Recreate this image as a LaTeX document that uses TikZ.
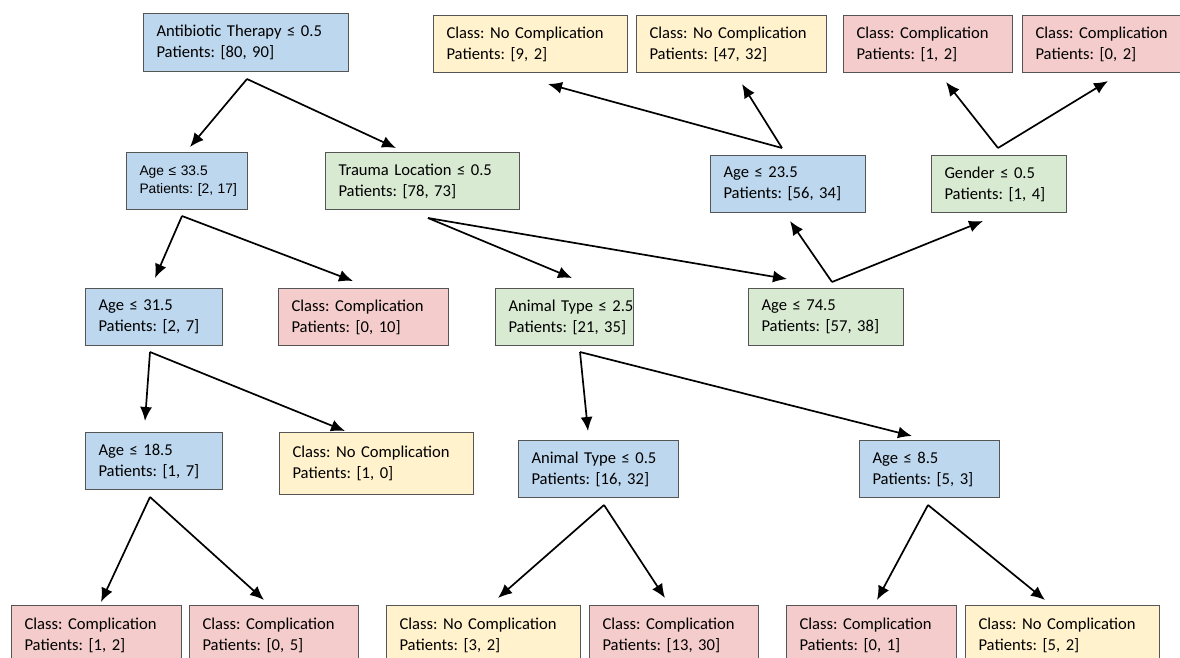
\documentclass[tikz,border=0pt]{standalone}
\usepackage{fontspec}
\setmainfont{Carlito}
\newfontfamily\arialf{Liberation Sans}
\usetikzlibrary{arrows.meta}
\definecolor{cblue}{HTML}{BDD7EE}
\definecolor{cgreen}{HTML}{D9EAD3}
\definecolor{cpink}{HTML}{F4CCCC}
\definecolor{cyellow}{HTML}{FFF2CC}
\definecolor{cborder}{HTML}{555555}
\tikzset{
  box/.style={draw=cborder, line width=1pt, anchor=north west, align=left,
    inner xsep=13pt, inner ysep=0pt, font=\fontsize{16.6}{21}\selectfont},
  conn/.style={line width=1.7pt, -{Latex[length=14pt,width=12pt]}},
}
\frenchspacing
% name, x1, y1, x2, y2, colour, line 1, line 2
\newcommand{\bx}[8]{%
  \pgfmathsetmacro{\bw}{#4-#2-26}\pgfmathsetmacro{\bh}{#5-#3}%
  \node[box, fill=#6, text width=\bw pt, minimum height=\bh pt] (#1) at (#2,#3) {\mbox{#7}\\\mbox{#8}};}
\begin{document}
\begin{tikzpicture}[x=1pt,y=-1pt]
\useasboundingbox (0,0) rectangle (1180,657);
% level 0
\bx{root}{143}{13}{348}{71}{cblue}{Antibiotic Therapy ≤ 0.5}{Patients: [80, 90]}
% level 1
\node[box, fill=cblue, text width=95pt, minimum height=57pt, font=\arialf\fontsize{13.8}{17.5}\selectfont] (a335) at (126,152) {\mbox{Age ≤ 33.5}\\\mbox{Patients: [2, 17]}};
\bx{trauma}{325}{152}{519}{209}{cgreen}{Trauma Location ≤ 0.5}{Patients: [78, 73]}
% level 2
\bx{a315}{85}{288}{222}{345}{cblue}{Age ≤ 31.5}{Patients: [2, 7]}
\bx{c010}{278}{288}{448}{345}{cpink}{Class: Complication}{Patients: [0, 10]}
\bx{animal25}{495}{288}{633}{345}{cgreen}{Animal Type ≤ 2.5}{Patients: [21, 35]}
\bx{a745}{748}{288}{903}{345}{cgreen}{Age ≤ 74.5}{Patients: [57, 38]}
% upper right
\bx{a235}{710}{155}{865}{212}{cblue}{Age ≤ 23.5}{Patients: [56, 34]}
\bx{gender}{931}{155}{1066}{212}{cgreen}{Gender ≤ 0.5}{Patients: [1, 4]}
\bx{n92}{433}{15}{627}{72}{cyellow}{Class: No Complication}{Patients: [9, 2]}
\bx{n4732}{636}{15}{826}{72}{cyellow}{Class: No Complication}{Patients: [47, 32]}
\bx{c12t}{843}{15}{1012}{72}{cpink}{Class: Complication}{Patients: [1, 2]}
\bx{c02t}{1022}{15}{1182}{72}{cpink}{Class: Complication}{Patients: [0, 2]}
% level 3
\bx{a185}{85}{432}{222}{489}{cblue}{Age ≤ 18.5}{Patients: [1, 7]}
\bx{n10}{279}{432}{473}{494}{cyellow}{Class: No Complication}{Patients: [1, 0]}
\bx{animal05}{518}{440}{678}{497}{cblue}{Animal Type ≤ 0.5}{Patients: [16, 32]}
\bx{a85}{859}{440}{999}{497}{cblue}{Age ≤ 8.5}{Patients: [5, 3]}
% bottom row
\bx{c12b}{11}{605}{181}{665}{cpink}{Class: Complication}{Patients: [1, 2]}
\bx{c05}{189}{605}{358}{665}{cpink}{Class: Complication}{Patients: [0, 5]}
\bx{n32}{386}{605}{580}{665}{cyellow}{Class: No Complication}{Patients: [3, 2]}
\bx{c1330}{589}{605}{758}{665}{cpink}{Class: Complication}{Patients: [13, 30]}
\bx{c01}{786}{605}{956}{665}{cpink}{Class: Complication}{Patients: [0, 1]}
\bx{n52}{965}{605}{1159}{665}{cyellow}{Class: No Complication}{Patients: [5, 2]}
% connector ends
\coordinate (s0) at (247,79);
\coordinate (s1) at (182,216);
\coordinate (s2) at (428,218);
\coordinate (s3) at (832,282);
\coordinate (s4) at (782,148);
\coordinate (s5) at (998,148);
\coordinate (s6) at (150,352);
\coordinate (s7) at (580,352);
\coordinate (s8) at (150,497);
\coordinate (s9) at (604,505);
\coordinate (s10) at (928,505);
\coordinate (t1) at (190,147);
\coordinate (t2) at (396,148);
\coordinate (t3) at (155,278);
\coordinate (t4) at (353,281);
\coordinate (t5) at (572,278);
\coordinate (t6) at (787,279);
\coordinate (t7) at (790,221);
\coordinate (t8) at (983,221);
\coordinate (t9) at (548,84);
\coordinate (t10) at (742,84);
\coordinate (t11) at (946,82);
\coordinate (t12) at (1108,81);
\coordinate (t13) at (145,421);
\coordinate (t14) at (345,431);
\coordinate (t15) at (588,431);
\coordinate (t16) at (912,436);
\coordinate (t17) at (101,602);
\coordinate (t18) at (264,600);
\coordinate (t19) at (498,598);
\coordinate (t20) at (665,598);
\coordinate (t21) at (877,600);
\coordinate (t22) at (1045,600);
\draw[conn] (s0) -- (t1);
\draw[conn] (s0) -- (t2);
\draw[conn] (s1) -- (t3);
\draw[conn] (s1) -- (t4);
\draw[conn] (s2) -- (t5);
\draw[conn] (s2) -- (t6);
\draw[conn] (s3) -- (t7);
\draw[conn] (s3) -- (t8);
\draw[conn] (s4) -- (t9);
\draw[conn] (s4) -- (t10);
\draw[conn] (s5) -- (t11);
\draw[conn] (s5) -- (t12);
\draw[conn] (s6) -- (t13);
\draw[conn] (s6) -- (t14);
\draw[conn] (s7) -- (t15);
\draw[conn] (s7) -- (t16);
\draw[conn] (s8) -- (t17);
\draw[conn] (s8) -- (t18);
\draw[conn] (s9) -- (t19);
\draw[conn] (s9) -- (t20);
\draw[conn] (s10) -- (t21);
\draw[conn] (s10) -- (t22);
\end{tikzpicture}
\end{document}
